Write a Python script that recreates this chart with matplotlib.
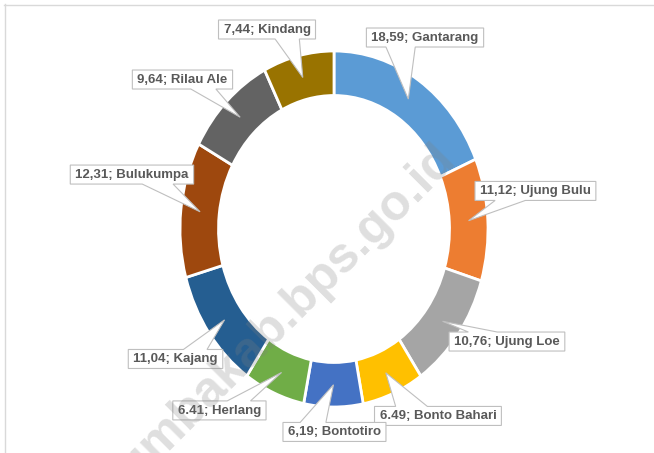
import matplotlib
matplotlib.use('Agg')
import matplotlib.pyplot as plt
from matplotlib.patches import Polygon
from matplotlib.lines import Line2D
from matplotlib import font_manager
import numpy as np

# ---- data ----
districts = ['Gantarang', 'Ujung Bulu', 'Ujung Loe', 'Bonto Bahari', 'Bontotiro',
             'Herlang', 'Kajang', 'Bulukumpa', 'Rilau Ale', 'Kindang']
values = [18.59, 11.12, 10.76, 6.49, 6.19, 6.41, 11.04, 12.31, 9.64, 7.44]
value_text = ['18,59', '11,12', '10,76', '6.49', '6,19', '6.41', '11,04', '12,31', '9,64', '7,44']
colors = ['#5B9BD5', '#ED7D31', '#A5A5A5', '#FFC000', '#4472C4',
          '#70AD47', '#255E91', '#9E480E', '#636363', '#997300']
watermark = 'bulukumbakab.bps.go.id'

# ---- layout (label centres in pie data units) ----
label_pos = [(0.591, 1.073), (1.308, 0.211), (1.123, -0.635), (0.675, -1.053),
             (0.003, -1.143), (-0.744, -1.022), (-1.029, -0.733), (-1.312, 0.303),
             (-0.984, 0.837), (-0.435, 1.118)]

names = {f.name for f in font_manager.fontManager.ttflist}
if 'Liberation Sans Narrow' in names:
    LBL_FAM, LBL_FS = ['Liberation Sans Narrow', 'DejaVu Sans'], 11.5
else:
    LBL_FAM, LBL_FS = ['Liberation Sans', 'DejaVu Sans'], 9.5

W, H = 654, 453
fig = plt.figure(figsize=(W / 100, H / 100), dpi=100)
fig.patch.set_facecolor('white')

cx, cy, rx, ry = 334, 229, 154, 178
ax = fig.add_axes([(cx - rx) / W, 1 - (cy + ry) / H, 2 * rx / W, 2 * ry / H])
wedges, _ = ax.pie(values, colors=colors, startangle=90, counterclock=False, radius=1,
                   wedgeprops=dict(width=0.25, edgecolor='white', linewidth=2))
ax.set_aspect('auto')
ax.set_xlim(-1, 1)
ax.set_ylim(-1, 1)
ax.axis('off')

texts = []
for (x, y), v, n in zip(label_pos, value_text, districts):
    t = ax.text(x, y, f'{v}; {n}', ha='center', va='center', fontsize=LBL_FS,
                fontweight='bold', color='#595959', family=LBL_FAM, zorder=6,
                clip_on=False)
    texts.append(t)

fig.canvas.draw()
renderer = fig.canvas.get_renderer()
inv = ax.transData.inverted()
padx, pady = 5, 4
for t, w in zip(texts, wedges):
    bb = t.get_window_extent(renderer)
    l, r = bb.x0 - padx, bb.x1 + padx
    b, tp = bb.y0 - pady + 1, bb.y1 + pady
    bw, bh = r - l, tp - b
    hc, vc = (l + r) / 2, (b + tp) / 2
    mid = np.deg2rad((w.theta1 + w.theta2) / 2)
    tipx, tipy = ax.transData.transform((0.875 * np.cos(mid), 0.875 * np.sin(mid)))
    dx, dy = tipx - hc, tipy - vc
    dz = abs(dy) - abs(dx * bh / bw)
    if dz > 0:
        if dx > 0:
            xa, xb = l + bw * 7 / 12, l + bw * 10 / 12
        else:
            xa, xb = l + bw * 2 / 12, l + bw * 5 / 12
        if dy > 0:  # tip above -> top edge
            pts = [(l, b), (r, b), (r, tp), (xb, tp), (tipx, tipy), (xa, tp), (l, tp)]
        else:
            pts = [(l, tp), (l, b), (xa, b), (tipx, tipy), (xb, b), (r, b), (r, tp)]
    else:
        if dy > 0:
            ya, yb = b + bh * 7 / 12, b + bh * 10 / 12
        else:
            ya, yb = b + bh * 2 / 12, b + bh * 5 / 12
        if dx > 0:
            pts = [(l, b), (r, b), (r, ya), (tipx, tipy), (r, yb), (r, tp), (l, tp)]
        else:
            pts = [(r, b), (r, tp), (l, tp), (l, yb), (tipx, tipy), (l, ya), (l, b)]
    dpts = inv.transform(pts)
    ax.add_patch(Polygon(dpts, closed=True, fc='white', ec='#BFBFBF', lw=0.8,
                         zorder=5, clip_on=False))

# watermark
fig.text(240 / W, 1 - 360 / H, watermark, rotation=45, ha='center', va='center',
         rotation_mode='anchor', fontsize=36, fontweight='bold',
         family=['Liberation Sans', 'DejaVu Sans'], color='#7F7F7F', alpha=0.25,
         zorder=10)

# frame (top & left visible)
fig.add_artist(Line2D([4 / W, 1], [1 - 4.5 / H, 1 - 4.5 / H], color='#D9D9D9', lw=1))
fig.add_artist(Line2D([4.5 / W, 4.5 / W], [0, 1 - 4 / H], color='#D9D9D9', lw=1))

fig.savefig('out.png', dpi=100, facecolor='white')
